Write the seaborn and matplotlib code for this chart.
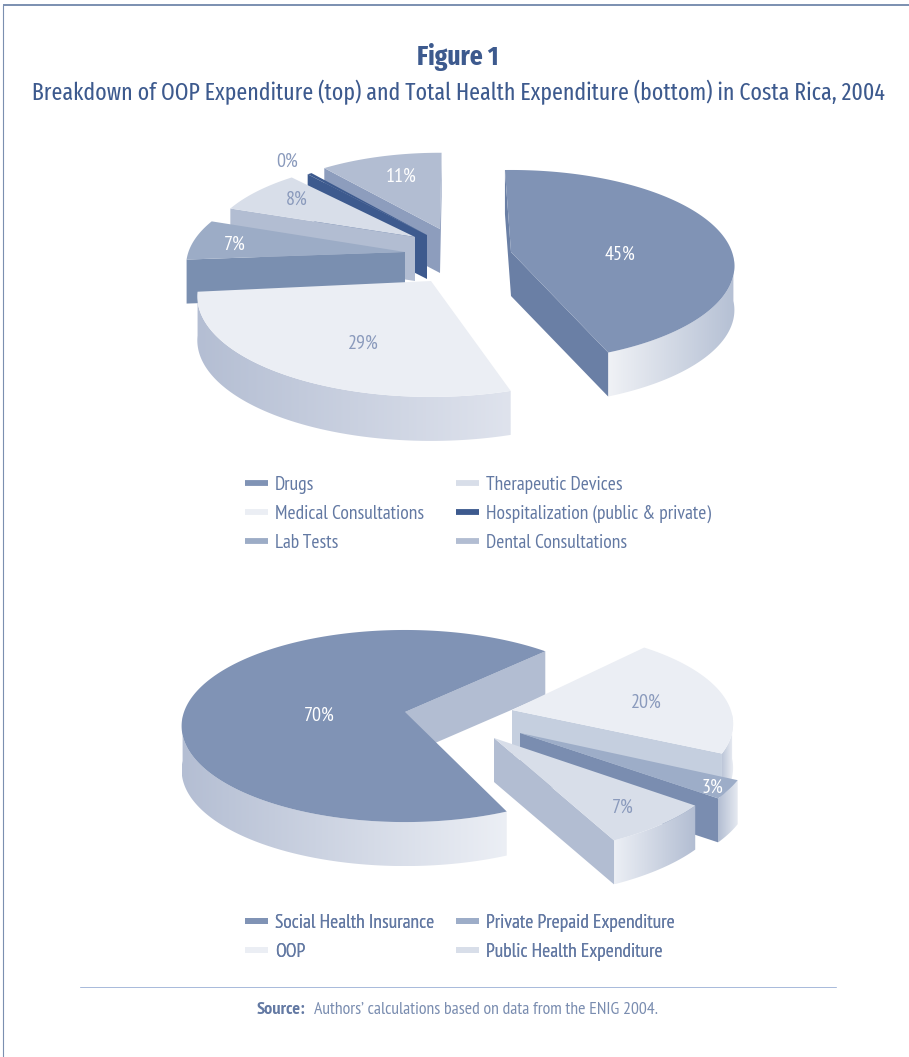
import numpy as np
import matplotlib
matplotlib.use("Agg")
import matplotlib.pyplot as plt
from matplotlib.lines import Line2D
from matplotlib.patches import Polygon
import seaborn as sns

# ---------- data ----------
top_categories = ["Drugs", "Medical Consultations", "Lab Tests", "Therapeutic Devices",
                  "Hospitalization (public & private)", "Dental Consultations"]
top_values = [45, 29, 7, 8, 0.4, 11]
bottom_categories = ["Social Health Insurance", "OOP", "Private Prepaid Expenditure",
                     "Public Health Expenditure"]
bottom_values = [70, 20, 3, 7]

# ---------- style ----------
FACE_TOP = ["#8093b5", "#ebeef4", "#9cacc6", "#d8dee9", "#3d5a8e", "#b2bdd2"]
CUT_TOP = ["#6a7fa5", "#c5cfdf", "#7a8fb0", "#b2bdd2", "#3d5a8e", "#8d9dbd"]
GRAD_TOP = [("#f0f2f6", "#b5c0d4"), ("#b4bed3", "#dfe3ed"), ("#7a8fb0", "#7a8fb0"),
            ("#b2bdd2", "#b2bdd2"), ("#3d5a8e", "#3d5a8e"), ("#8d9dbd", "#8d9dbd")]
APEX_TOP = [(511, 252), (431, 281), (405, 252), (415, 237), (427, 235), (440, 229)]
ROT_TOP = [1.25, 4, 4, 3.5, 5, 4.5]
TRIM_TOP = [0.95, 1.5, 0, 0, 0, 0]
RAD_TOP = [1.0, 1.045, 0.98, 0.93, 0.93, 0.92]
ORDER_TOP = [5, 4, 3, 2, 0, 1]
LABEL_TOP = [(620, 254), (363, 343), (235, 244), (297, 199), (287, 161), (401, 176)]
LCOL_TOP = ["white", "#8a9abc", "white", "#8a9abc", "#8a9abc", "white"]

FACE_BOT = ["#8093b5", "#ebeef4", "#9dadc8", "#d8dee9"]
CUT_BOT = ["#b2bdd2", "#c5cfdf", "#7a8db0", "#b2bdd2"]
GRAD_BOT = [("#b4bed3", "#eceff5"), ("#bcc6d8", "#eef0f5"), ("#b2bdd2", "#e6eaf1"),
            ("#eceff5", "#b2bdd2")]
APEX_BOT = [(405, 712), (512, 710), (520, 733), (494, 738)]
ROT_BOT = [2.5, -1, 1, 1.5]
TRIM_BOT = [2, -1, 0, 0]
RAD_BOT = [1.0, 0.99, 1.03, 1.05]
ORDER_BOT = [0, 1, 2, 3]
LABEL_BOT = [(319, 715), (646, 702), (712, 787), (623, 807)]
LCOL_BOT = ["white", "#8a9abc", "white", "#8a9abc"]

A, B, K, DEPTH = 221.0, 94.0, 0.146, 44.0
TXT = "#6379a3"
DARK = "#3d5a8e"
FONT = ["PT Sans Narrow", "Liberation Sans Narrow", "Liberation Sans", "DejaVu Sans"]
HEAD = ["Fira Sans Extra Condensed"] + FONT

sns.set_theme(style="white")
plt.rcParams["font.family"] = FONT

fig = plt.figure(figsize=(9.09, 10.57), dpi=100, facecolor="white")
ax = fig.add_axes([0, 0, 1, 1])
ax.axis("off")
renderer = fig.canvas.get_renderer()


def project(apex, rad, theta):
    th = np.radians(theta)
    X, Y = rad * np.sin(th), rad * np.cos(th)
    s = 1.0 / (1.0 + K * Y)
    return apex[0] + A * X * s, apex[1] - B * Y * s


def draw_slice(apex, rad, t1, t2, face, cut, grad):
    ts = np.linspace(t1, t2, max(int(abs(t2 - t1)) * 3, 8))
    x, y = project(apex, rad, ts)
    # outer wall with a horizontal gradient
    front = np.where(np.cos(np.radians(ts)) < -0.05)[0]
    if len(front) > 1:
        fx, fy = x[front], y[front]
        poly = Polygon(np.c_[np.r_[fx, fx[::-1]], np.r_[fy, fy[::-1] + DEPTH]],
                       transform=ax.transData, fc="none", ec="none")
        ax.add_patch(poly)
        cmap = sns.blend_palette(list(grad), as_cmap=True)
        im = ax.imshow(np.linspace(0, 1, 256)[None, :], cmap=cmap, vmin=0, vmax=1, aspect="auto",
                       extent=(fx.min(), fx.max(), fy.max() + DEPTH, fy.min()),
                       zorder=ax.zz, interpolation="bilinear")
        im.set_clip_path(poly)
    # radial cut faces that look towards the viewer
    if np.sin(np.radians(t1)) < 0:
        ax.fill([apex[0], x[0], x[0], apex[0]],
                [apex[1], y[0], y[0] + DEPTH, apex[1] + DEPTH], color=cut, lw=0, zorder=ax.zz + .2)
    if np.sin(np.radians(t2)) > 0:
        ax.fill([apex[0], x[-1], x[-1], apex[0]],
                [apex[1], y[-1], y[-1] + DEPTH, apex[1] + DEPTH], color=cut, lw=0, zorder=ax.zz + .2)
    ax.fill(np.r_[apex[0], x], np.r_[apex[1], y], color=face, lw=0, zorder=ax.zz + 0.5)
    ax.zz += 1


def draw_pie(values, start, rot, trim, rad, apex, order, face, cut, grad):
    v = np.asarray(values, float)
    edges = start + np.r_[0, np.cumsum(v)] / v.sum() * 360
    for i in order:
        draw_slice(apex[i], rad[i], edges[i] + rot[i] + trim[i], edges[i + 1] + rot[i] - trim[i],
                   face[i], cut[i], grad[i])


ax.zz = 2
draw_pie(top_values, -4, ROT_TOP, TRIM_TOP, RAD_TOP, APEX_TOP, ORDER_TOP, FACE_TOP, CUT_TOP, GRAD_TOP)
draw_pie(bottom_values, 152, ROT_BOT, TRIM_BOT, RAD_BOT, APEX_BOT, ORDER_BOT, FACE_BOT, CUT_BOT, GRAD_BOT)
ax.set_xlim(0, 909)
ax.set_ylim(1057, 0)


def fit(text, width, **kw):
    t = ax.text(0, 0, text, fontsize=10, **kw)
    w = t.get_window_extent(renderer).width
    t.remove()
    return 10 * width / w


def width_of(text, fs):
    t = ax.text(0, 0, text, fontsize=fs)
    w = t.get_window_extent(renderer).width
    t.remove()
    return w


FS_LABEL = fit("45%", 31)
for vals, pos, cols in [(top_values, LABEL_TOP, LCOL_TOP), (bottom_values, LABEL_BOT, LCOL_BOT)]:
    for v, p, c in zip(vals, pos, cols):
        ax.text(p[0], p[1] + 1, f"{v:.0f}%", color=c, fontsize=FS_LABEL, ha="center", va="center", zorder=50)

# frame and rule
ax.plot([3, 909], [5, 5], color="#7b8fb0", lw=1.4, zorder=1, solid_capstyle="butt")
ax.plot([3, 3], [5, 1057], color="#7b8fb0", lw=0.8, zorder=1, solid_capstyle="butt")
ax.plot([80, 836], [986.5, 986.5], color="#a9bbdb", lw=0.72, zorder=1)

# titles
ax.text(458, 57, "Figure 1", color=DARK, fontweight="bold", family=HEAD, ha="center", va="center",
        fontsize=fit("Figure 1", 82, fontweight="bold", family=HEAD))
SUB = "Breakdown of OOP Expenditure (top) and Total Health Expenditure (bottom) in Costa Rica, 2004"
ax.text(458.5, 92, SUB, color=DARK, family=HEAD, ha="center", va="center",
        fontsize=fit(SUB, 855, family=HEAD))

FS_LEG = fit("Hospitalization (public & private)", 225)


def legend(names, cols, y, first_col):
    hs = [Line2D([], [], color=c, lw=4.2, solid_capstyle="butt") for c in cols]
    gap_px = (456 - 245 - 23 - 7) - width_of(first_col, FS_LEG)
    lg = ax.legend(hs, names, ncol=2, loc="upper left", bbox_to_anchor=(245, y),
                   bbox_transform=ax.transData, frameon=False, fontsize=FS_LEG, labelcolor=TXT,
                   handlelength=23 * 0.72 / FS_LEG, handletextpad=7 * 0.72 / FS_LEG,
                   labelspacing=0.56, columnspacing=gap_px * 0.72 / FS_LEG, borderpad=0, borderaxespad=0)
    ax.add_artist(lg)
    lg.set_zorder(60)


legend(top_categories, FACE_TOP, 476, "Medical Consultations")
legend(bottom_categories, FACE_BOT, 914, "Social Health Insurance")

# source
ax.text(305, 1010, "Source:", color=TXT, fontweight="bold", ha="right", va="center",
        fontsize=fit("Source:", 49, fontweight="bold"))
SRC = "Authors’ calculations based on data from the ENIG 2004."
ax.text(314, 1010, SRC, color="#7a8db0", ha="left", va="center", fontsize=fit(SRC, 346))

fig.savefig("out.png", dpi=100, facecolor="white")
